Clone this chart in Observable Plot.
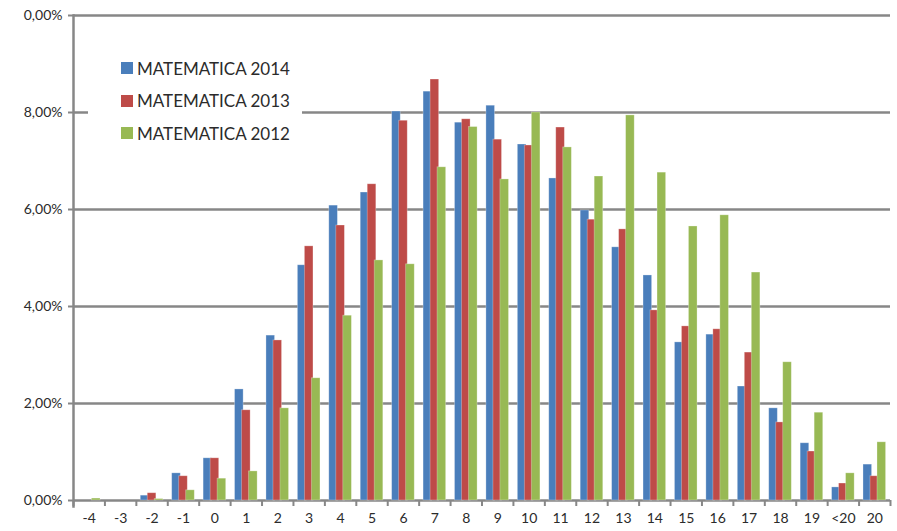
<!DOCTYPE html>
<html>
<head>
<meta charset="utf-8">
<script src="https://cdn.jsdelivr.net/npm/d3@7"></script>
<script src="https://cdn.jsdelivr.net/npm/@observablehq/plot@0.6"></script>
<style>
  html, body { margin: 0; padding: 0; background: #fff; }
  #wrap { position: relative; width: 897px; height: 531px; font-family: Lato, "Open Sans", sans-serif; }
  #legend { position: absolute; left: 88px; top: 48px; width: 214px; height: 106px; background: #fff; }
  .item { position: absolute; left: 33px; height: 20px; display: flex; align-items: center; font-size: 17px; color: #2b2b2b; white-space: nowrap; }
  .sw { width: 12px; height: 12px; margin-right: 4px; }
</style>
</head>
<body>
<div id="wrap"></div>
<script>
const categories = ["-4","-3","-2","-1","0","1","2","3","4","5","6","7","8","9","10","11","12","13","14","15","16","17","18","19","<20","20"];
const series = ["MATEMATICA 2014", "MATEMATICA 2013", "MATEMATICA 2012"];
const values2014 = [0, 0, 0.10, 0.56, 0.87, 2.29, 3.40, 4.85, 6.08, 6.35, 8.02, 8.43, 7.79, 8.14, 7.34, 6.64, 5.98, 5.22, 4.64, 3.26, 3.42, 2.35, 1.90, 1.18, 0.27, 0.74];
const values2013 = [0, 0, 0.15, 0.50, 0.87, 1.86, 3.30, 5.24, 5.67, 6.52, 7.83, 8.68, 7.86, 7.44, 7.32, 7.69, 5.79, 5.59, 3.92, 3.59, 3.53, 3.05, 1.61, 1.01, 0.35, 0.50];
const values2012 = [0.04, 0, 0.03, 0.21, 0.45, 0.60, 1.90, 2.52, 3.81, 4.95, 4.87, 6.87, 7.70, 6.62, 8.00, 7.28, 6.68, 7.94, 6.76, 5.65, 5.88, 4.70, 2.85, 1.81, 0.56, 1.20];
const yTicks = [0, 2, 4, 6, 8, 10];
const yTickLabels = ["0,00%", "2,00%", "4,00%", "6,00%", "8,00%", "0,00%"];
const colors = ["#4a7ebb", "#be4b48", "#98b954"];

const W = 897, H = 531, ML = 73, MR = 7, MT = 15, MB = 31;
const step = (W - ML - MR) / categories.length;
const barW = 8.6, shift = 7;
const inset = (step - barW) / 2;
const allValues = [values2014, values2013, values2012];

const barMarks = series.map((s, k) => {
  const rows = categories.map((c, i) => ({cat: c, value: allValues[k][i], series: s}));
  return Plot.barY(rows, {
    x: "cat", y: "value", fill: colors[k],
    dx: (k - 1) * shift, insetLeft: inset, insetRight: inset,
    stroke: "#ffffff", strokeOpacity: 0.35, strokeWidth: 0.8
  });
});

const chart = Plot.plot({
  width: W, height: H,
  marginLeft: ML, marginRight: MR, marginTop: MT, marginBottom: MB,
  style: {fontFamily: "Lato, 'Open Sans', sans-serif", fontSize: "14px", color: "#2b2b2b", background: "#fff"},
  x: {domain: categories, padding: 0, round: false, axis: null, label: null},
  y: {domain: [0, 10], axis: null, label: null},
  marks: [
    Plot.ruleY(yTicks, {stroke: "#878787", strokeWidth: 2.5}),
    ...barMarks,
    Plot.frame({anchor: "left", stroke: "#878787", strokeWidth: 2.5, insetBottom: -6}),
    Plot.ruleX(categories, {x: d => d, dx: -step / 2, stroke: "#878787", strokeWidth: 2, insetTop: H - MT - MB, insetBottom: -6}),
    Plot.ruleX([categories[categories.length - 1]], {x: d => d, dx: step / 2, stroke: "#878787", strokeWidth: 2, insetTop: H - MT - MB, insetBottom: -6}),
    Plot.axisY({ticks: yTicks, label: null, tickFormat: (d) => yTickLabels[yTicks.indexOf(d)], tickSize: 5, tickPadding: 6, stroke: "#878787", strokeWidth: 2, fontSize: 14, fill: "#2b2b2b"}),
    Plot.axisX({label: null, tickSize: 0, tickPadding: 13, fontSize: 14, fill: "#2b2b2b"})
  ]
});

const wrap = document.getElementById("wrap");
wrap.appendChild(chart);
const legend = document.createElement("div");
legend.id = "legend";
series.forEach((s, k) => {
  const item = document.createElement("div");
  item.className = "item";
  item.style.top = (10 + k * 32.5) + "px";
  const sw = document.createElement("div");
  sw.className = "sw";
  sw.style.background = colors[k];
  const t = document.createElement("span");
  t.textContent = s;
  item.appendChild(sw); item.appendChild(t);
  legend.appendChild(item);
});
wrap.appendChild(legend);
</script>
</body>
</html>
